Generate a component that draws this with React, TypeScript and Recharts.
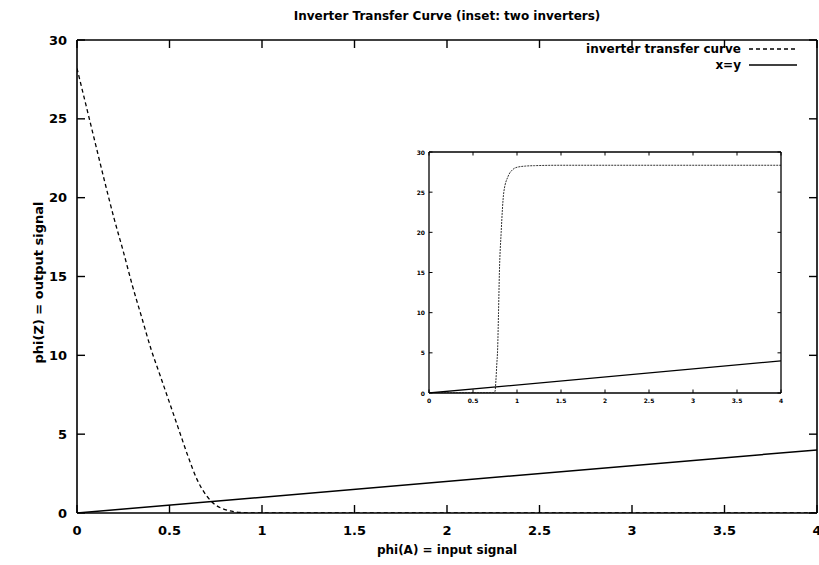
import React from 'react';
import { LineChart, Line, XAxis, YAxis, Legend } from 'recharts';

const FONT = '"DejaVu Sans", "Liberation Sans", Arial, sans-serif';

// tick labels
const xTicks = [0, 0.5, 1, 1.5, 2, 2.5, 3, 3.5, 4];
const yTicks = [0, 5, 10, 15, 20, 25, 30];

// main plot: single inverter transfer curve
const inverterX = [0, 0.05, 0.1, 0.15, 0.2, 0.25, 0.3, 0.35, 0.4, 0.45, 0.5, 0.55, 0.6, 0.65, 0.7, 0.75, 0.8, 0.85, 0.9, 0.95, 1.0, 1.5, 2, 2.5, 3, 3.5, 4];
const inverterY = [28.2, 25.8, 23.4, 21.0, 18.7, 16.6, 14.4, 12.4, 10.4, 8.7, 7.0, 5.3, 3.6, 2.1, 1.1, 0.5, 0.22, 0.08, 0.02, 0, 0, 0, 0, 0, 0, 0, 0];

// inset: two inverters in series
const twoInvX = [0, 0.5, 0.72, 0.75, 0.76, 0.77, 0.78, 0.79, 0.8, 0.82, 0.85, 0.9, 0.95, 1.0, 1.1, 1.2, 1.5, 2, 3, 4];
const twoInvY = [0, 0, 0, 0.2, 1.5, 3.5, 5.5, 10, 15, 20, 25, 27, 27.8, 28.1, 28.25, 28.3, 28.35, 28.35, 28.35, 28.35];

// x = y reference
const identityX = [0, 4];
const identityY = [0, 4];

const rows = (xs: number[], ys: number[]) => xs.map((x, i) => ({ x, y: ys[i] }));
const inverterData = rows(inverterX, inverterY);
const twoInvData = rows(twoInvX, twoInvY);
const identityData = rows(identityX, identityY);

const makeBottomTick = (len: number, fs: number, dy: number, sw: number) => (props: any) => {
  const { x, y, payload } = props;
  return (
    <g>
      <line x1={x} y1={y} x2={x} y2={y - len} stroke="#000" strokeWidth={sw} />
      <text x={x} y={y + dy} textAnchor="middle" dominantBaseline="central" fontSize={fs} fontFamily={FONT} fontWeight="bold" fill="#000">
        {payload.value}
      </text>
    </g>
  );
};
const makeLeftTick = (len: number, fs: number, dx: number, sw: number) => (props: any) => {
  const { x, y, payload } = props;
  return (
    <g>
      <line x1={x} y1={y} x2={x + len} y2={y} stroke="#000" strokeWidth={sw} />
      <text x={x - dx} y={y} textAnchor="end" dominantBaseline="central" fontSize={fs} fontFamily={FONT} fontWeight="bold" fill="#000">
        {payload.value}
      </text>
    </g>
  );
};
const makeTopTick = (len: number, sw: number) => (props: any) => {
  const { x, y } = props;
  return <line x1={x} y1={y} x2={x} y2={y + len} stroke="#000" strokeWidth={sw} />;
};
const makeRightTick = (len: number, sw: number) => (props: any) => {
  const { x, y } = props;
  return <line x1={x} y1={y} x2={x - len} y2={y} stroke="#000" strokeWidth={sw} />;
};

const LegendContent = () => (
  <div style={{ fontFamily: FONT, fontWeight: 'bold', fontSize: 12, color: '#000' }}>
    {[
      { name: 'inverter transfer curve', dash: '4 3' },
      { name: 'x=y', dash: undefined },
    ].map((r) => (
      <div key={r.name} style={{ display: 'flex', alignItems: 'center', justifyContent: 'flex-end', height: 16 }}>
        <span style={{ whiteSpace: 'nowrap' }}>{r.name}</span>
        <svg width={58} height={10} style={{ display: 'block' }}>
          <line x1={8} y1={5} x2={56} y2={5} stroke="#000" strokeWidth={1.3} strokeDasharray={r.dash} />
        </svg>
      </div>
    ))}
  </div>
);

export default function App() {
  return (
    <div style={{ position: 'absolute', left: 0, top: 0, width: 819, height: 565, background: '#fff' }}>
      <LineChart width={819} height={565} margin={{ top: 39, right: 1, bottom: 0, left: 0 }}>
        <XAxis
          xAxisId="b"
          dataKey="x"
          type="number"
          domain={[0, 4]}
          ticks={xTicks}
          allowDataOverflow
          orientation="bottom"
          height={52}
          tickSize={0}
          tickMargin={0}
          tickLine={false}
          axisLine={{ stroke: '#000', strokeWidth: 1.6 }}
          tick={makeBottomTick(8, 13, 17, 1.4)}
          interval={0}
          label={{
            content: (p: any) => {
              const vb = p.viewBox;
              return (
                <text x={vb.x + vb.width / 2} y={vb.y + 37} textAnchor="middle" dominantBaseline="central" fontSize={12} fontFamily={FONT} fontWeight="bold" fill="#000">
                  phi(A) = input signal
                </text>
              );
            },
          }}
        />
        <XAxis
          xAxisId="t"
          dataKey="x"
          type="number"
          domain={[0, 4]}
          ticks={xTicks}
          allowDataOverflow
          orientation="top"
          height={1}
          tickSize={0}
          tickMargin={0}
          tickLine={false}
          axisLine={{ stroke: '#000', strokeWidth: 1.6 }}
          tick={makeTopTick(8, 1.4)}
          interval={0}
          label={{
            content: (p: any) => {
              const vb = p.viewBox;
              return (
                <text x={vb.x + vb.width / 2} y={16} textAnchor="middle" dominantBaseline="central" fontSize={12} fontFamily={FONT} fontWeight="bold" fill="#000">
                  Inverter Transfer Curve (inset: two inverters)
                </text>
              );
            },
          }}
        />
        <YAxis
          yAxisId="l"
          type="number"
          domain={[0, 30]}
          ticks={yTicks}
          allowDataOverflow
          orientation="left"
          width={77}
          tickSize={0}
          tickMargin={0}
          tickLine={false}
          axisLine={{ stroke: '#000', strokeWidth: 1.6 }}
          tick={makeLeftTick(8, 13, 10, 1.4)}
          interval={0}
          label={{
            content: (p: any) => {
              const vb = p.viewBox;
              const cx = 38;
              const cy = vb.y + vb.height / 2 + 6;
              return (
                <text x={cx} y={cy} transform={`rotate(-90 ${cx} ${cy})`} textAnchor="middle" dominantBaseline="central" fontSize={13} fontFamily={FONT} fontWeight="bold" fill="#000">
                  phi(Z) = output signal
                </text>
              );
            },
          }}
        />
        <YAxis
          yAxisId="r"
          type="number"
          domain={[0, 30]}
          ticks={yTicks}
          allowDataOverflow
          orientation="right"
          width={1}
          tickSize={0}
          tickMargin={0}
          tickLine={false}
          axisLine={{ stroke: '#000', strokeWidth: 1.6 }}
          tick={makeRightTick(8, 1.4)}
          interval={0}
        />
        <Legend
          layout="horizontal"
          verticalAlign="middle"
          align="center"
          content={<LegendContent />}
          wrapperStyle={{ position: 'absolute', top: 41, right: 20, left: 'auto', width: 'auto' }}
        />
        <Line
          xAxisId="b"
          yAxisId="l"
          data={inverterData}
          dataKey="y"
          type="monotone"
          stroke="#000"
          strokeWidth={1.3}
          strokeDasharray="4 3"
          dot={false}
          isAnimationActive={false}
          name="inverter transfer curve"
        />
        <Line
          xAxisId="b"
          yAxisId="l"
          data={identityData}
          dataKey="y"
          type="linear"
          stroke="#000"
          strokeWidth={1.5}
          dot={false}
          isAnimationActive={false}
          name="x=y"
        />
        <Line
          xAxisId="t"
          yAxisId="r"
          data={identityData}
          dataKey="y"
          stroke="none"
          dot={false}
          legendType="none"
          isAnimationActive={false}
        />
      </LineChart>

      <div style={{ position: 'absolute', left: 403, top: 147 }}>
        <LineChart width={382} height={260} margin={{ top: 4, right: 3, bottom: 0, left: 0 }}>
          <XAxis
            xAxisId="b"
            dataKey="x"
            type="number"
            domain={[0, 4]}
            ticks={xTicks}
            allowDataOverflow
            orientation="bottom"
            height={14}
            tickSize={0}
            tickMargin={0}
            tickLine={false}
            axisLine={{ stroke: '#000', strokeWidth: 1.3 }}
            tick={makeBottomTick(3.5, 6, 7, 1)}
            interval={0}
          />
          <XAxis
            xAxisId="t"
            dataKey="x"
            type="number"
            domain={[0, 4]}
            ticks={xTicks}
            allowDataOverflow
            orientation="top"
            height={1}
            tickSize={0}
            tickMargin={0}
            tickLine={false}
            axisLine={{ stroke: '#000', strokeWidth: 1.3 }}
            tick={makeTopTick(3.5, 1)}
            interval={0}
          />
          <YAxis
            yAxisId="l"
            type="number"
            domain={[0, 30]}
            ticks={yTicks}
            allowDataOverflow
            orientation="left"
            width={26}
            tickSize={0}
            tickMargin={0}
            tickLine={false}
            axisLine={{ stroke: '#000', strokeWidth: 1.3 }}
            tick={makeLeftTick(3.5, 6, 4, 1)}
            interval={0}
          />
          <YAxis
            yAxisId="r"
            type="number"
            domain={[0, 30]}
            ticks={yTicks}
            allowDataOverflow
            orientation="right"
            width={1}
            tickSize={0}
            tickMargin={0}
            tickLine={false}
            axisLine={{ stroke: '#000', strokeWidth: 1.3 }}
            tick={makeRightTick(3.5, 1)}
            interval={0}
          />
          <Line
            xAxisId="b"
            yAxisId="l"
            data={twoInvData}
            dataKey="y"
            type="monotone"
            stroke="#333"
            strokeWidth={1}
            strokeDasharray="2 1"
            dot={false}
            isAnimationActive={false}
          />
          <Line
            xAxisId="b"
            yAxisId="l"
            data={identityData}
            dataKey="y"
            type="linear"
            stroke="#000"
            strokeWidth={1.3}
            dot={false}
            isAnimationActive={false}
          />
          <Line
            xAxisId="t"
            yAxisId="r"
            data={identityData}
            dataKey="y"
            stroke="none"
            dot={false}
            legendType="none"
            isAnimationActive={false}
          />
        </LineChart>
      </div>
    </div>
  );
}
